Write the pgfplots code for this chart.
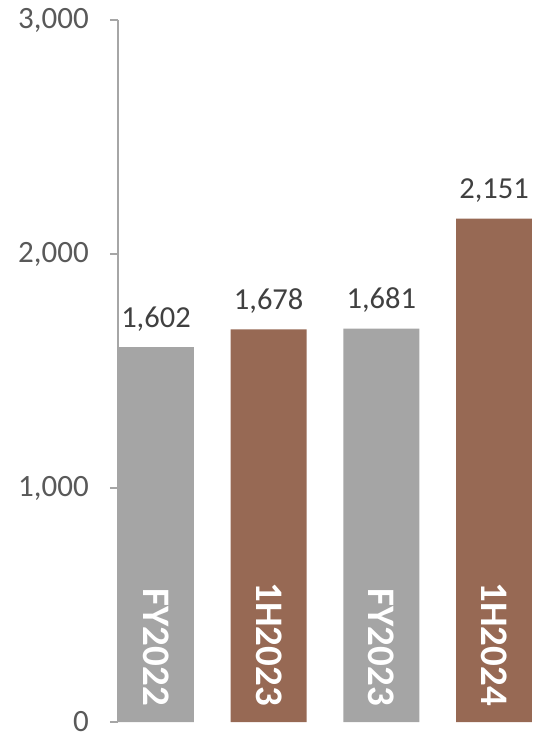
\documentclass[border=0pt]{standalone}
\usepackage{fontspec}
\setmainfont{Carlito}
\usepackage{pgfplots}
\pgfplotsset{compat=1.18}
\definecolor{bargray}{HTML}{A5A5A5}
\definecolor{barbrown}{HTML}{976954}
\definecolor{axgray}{HTML}{A6A6A6}
\definecolor{ticktext}{HTML}{595959}
\definecolor{labtext}{HTML}{404040}
\begin{document}
\begin{tikzpicture}
\begin{axis}[
  scale only axis,
  width=414pt, height=702pt,
  xmin=-0.337, xmax=3.337,
  ymin=0, ymax=3000,
  hide x axis,
  axis y line*=left,
  y axis line style={-, draw=axgray, line width=1.4pt},
  ytick={0,1000,2000,3000},
  tick align=outside,
  major tick length=8pt,
  ytick style={draw=axgray, line width=1.4pt},
  scaled ticks=false,
  /pgf/number format/.cd, fixed, 1000 sep={,}, assume math mode=true,
  /pgfplots/.cd,
  yticklabel style={font=\fontsize{31}{31}\selectfont, text=ticktext, anchor=east, inner xsep=0pt, inner ysep=0pt, xshift=-21pt},
  ybar, bar width=0.674,
  every axis plot/.append style={draw=none},
  nodes near coords,
  every node near coord/.append style={font=\fontsize{30.5}{30.5}\selectfont, text=labtext, anchor=base, yshift=20pt},
]
\addplot[fill=bargray, bar shift=0pt] coordinates {(0,1602) (2,1681)};
\addplot[fill=barbrown, bar shift=0pt] coordinates {(1,1678) (3,2151)};
\node[rotate=-90, anchor=east, inner xsep=16pt, inner ysep=0pt, text=white, font=\fontsize{39}{39}\selectfont\bfseries] at (axis cs:0,0) {FY2022};
\node[rotate=-90, anchor=east, inner xsep=16pt, inner ysep=0pt, text=white, font=\fontsize{39}{39}\selectfont\bfseries] at (axis cs:1,0) {1H2023};
\node[rotate=-90, anchor=east, inner xsep=16pt, inner ysep=0pt, text=white, font=\fontsize{39}{39}\selectfont\bfseries] at (axis cs:2,0) {FY2023};
\node[rotate=-90, anchor=east, inner xsep=16pt, inner ysep=0pt, text=white, font=\fontsize{39}{39}\selectfont\bfseries] at (axis cs:3,0) {1H2024};
\end{axis}
\pgfresetboundingbox
\path[use as bounding box] ([xshift=-118pt,yshift=-15pt]current axis.south west) rectangle ([xshift=1pt,yshift=20pt]current axis.north east);
\end{tikzpicture}
\end{document}
